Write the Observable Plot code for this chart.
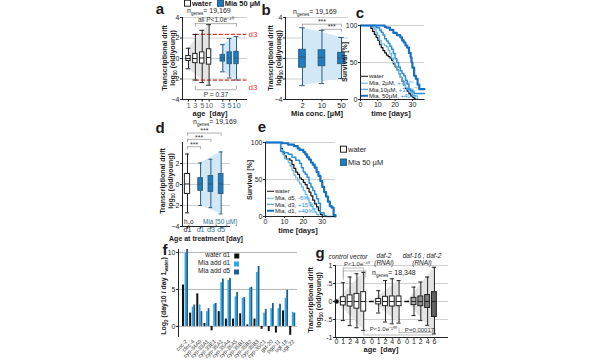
<!DOCTYPE html>
<html><head><meta charset="utf-8">
<script src="https://cdn.jsdelivr.net/npm/d3@7"></script>
<script src="https://cdn.jsdelivr.net/npm/@observablehq/plot@0.6"></script>
<style>
html,body{margin:0;padding:0;background:#fff;}
#fig{position:relative;width:600px;height:360px;overflow:hidden;font-family:"Liberation Sans",Arial,Helvetica,sans-serif;color:#1a1a1a;}
.p{position:absolute;line-height:0;}
.t{position:absolute;white-space:nowrap;line-height:1.08;}
sub,sup{font-size:65%;line-height:0;}
sub{vertical-align:-0.3em;} sup{vertical-align:0.55em;}
.L{font-weight:bold;font-size:15px;}
.ax{font-weight:bold;font-size:7.5px;}
.sq{display:inline-block;width:5px;height:5px;vertical-align:-0.5px;margin-right:1px;}
.ln{display:inline-block;width:7px;vertical-align:middle;margin-right:1px;}
</style></head><body><div id="fig"></div>
<script>
// ================= DATA =================
// panel a : transcriptional drift boxes [lo, q1, median, q3, hi]
const aTicks = [-4, -2, 0, 2, 4];
const aWaterAges = ["1", "3", "5", "10"];
const aMiaAges = ["3", "5", "10"];
const aWaterBox = [[-1.0,-0.25,0,0.25,1.0],[-2.1,-0.45,0,0.45,2.35],[-2.35,-0.5,0.05,0.6,2.75],[-2.6,-0.6,0.1,0.9,3.3]];
const aMiaBox = [[-1.3,-0.3,0.05,0.35,1.35],[-1.9,-0.55,0.05,0.6,1.95],[-2.1,-0.55,0.05,0.65,2.15]];
// panel b
const bConc = ["2", "10", "50"];
const bBox = [[-2.65,-0.9,0.15,0.85,3.0],[-2.45,-0.75,0.1,0.8,2.75],[-1.95,-0.55,0.05,0.55,2.05]];
// panel c : survival [day, %]
const cTicksX = [0, 10, 20, 30];
const cTicksY = [0, 50, 100];
const cWater = [[0,100],[5,100],[6,96],[7,92],[8,88],[9,84],[10,80],[11,74],[12,70],[13,66],[14,63],[15,60],[16,58],[17,56],[18,53],[19,48],[20,44],[21,40],[22,35],[23,30],[24,25],[25,19],[26,15],[27,11],[28,8],[29,5],[30,3],[31,1],[32,0],[37,0]];
const cMia2 = [[0,100],[6,100],[7,97],[8,95],[9,90],[10,86],[11,80],[12,75],[14,73],[15,71],[16,66],[17,62],[18,56],[19,50],[20,45],[21,40],[22,35],[23,30],[24,25],[25,19],[26,16],[27,14],[28,11],[29,9],[30,6],[31,5],[33,0],[37,0]];
const cMia10 = [[0,100],[8,100],[9,97],[11,94],[12,91],[13,87],[14,82],[15,79],[16,76],[17,72],[18,68],[19,62],[20,55],[21,50],[22,44],[23,39],[24,35],[25,32],[26,26],[27,21],[28,14],[29,12],[30,10],[31,8],[37,8]];
const cMia50 = [[0,100],[12,100],[14,98],[15,97],[17,94],[19,90],[21,87],[23,84],[24,80],[25,77],[26,73],[27,70],[28,63],[29,57],[29.5,50],[30,43],[31,32],[32,28],[33,20],[34,14],[37,14]];
// panel d
const dLabels = ["d1", "d1", "d3", "d5"];
const dWaterBox = [[-2.7,-0.9,0.05,1.0,2.9]];
const dMiaBox = [[-2.0,-0.6,0.05,0.6,2.05],[-2.2,-0.7,0.05,0.8,2.4],[-2.8,-0.9,0.05,1.0,3.1]];
// panel e : survival [day, %]
const eWater = [[0,100],[7,100],[8,92],[9,86],[10,82],[11,78],[13,76],[14,70],[15,65],[16,60],[17,57],[18,52],[19,50],[20,46],[21,43],[22,38],[23,33],[24,28],[25,22],[26,17],[27,13],[28,8],[29,3],[30,0],[37,0]];
const eMiaD5 = [[0,100],[7,100],[8,90],[9,84],[10,78],[12,73],[13,68],[14,62],[15,56],[16,52],[17,48],[18,44],[19,40],[20,35],[21,30],[22,25],[23,19],[24,14],[25,10],[26,6],[27,3],[28,0],[37,0]];
const eMiaD3 = [[0,100],[7,100],[8,88],[10,86],[12,84],[14,80],[16,76],[18,72],[19,66],[20,60],[21,57],[22,53],[23,45],[24,40],[25,35],[26,30],[27,24],[28,18],[29,5],[31,1],[32,0],[37,0]];
const eMiaD1 = [[0,100],[8,100],[9,99],[12,97],[15,95],[17,92],[18,90],[20,87],[21,84],[22,80],[23,77],[24,73],[25,70],[26,66],[27,60],[28,55],[29,48],[30,40],[31,33],[32,27],[33,20],[34,14],[35,12],[36,2],[37,0]];
// panel f : log2 fold change
const fGenes = ["cnc-2","clec-4","cyp-34A9","cyp-33A1","cyp-33E1","cyp-35A1","cyp-35A4","cyp-35A5","cyp-35B1","cyp-35B2","cyp-35B3","cyp-35C1","gst-20","pgp-11","ugt-18","ugt-22"];
const fWaterD1 = [5.6,1.8,4.4,0.4,-0.6,2.0,1.0,1.0,1.7,0.2,1.0,-0.4,-0.7,-0.9,2.1,-1.2];
const fMiaAddD1 = [9.9,2.6,2.9,2.0,3.0,5.9,6.2,4.0,3.8,5.2,7.3,1.8,2.4,2.4,3.8,1.9];
const fMiaAddD5 = [10.4,2.9,2.0,2.4,3.1,6.4,6.5,4.6,3.9,5.3,8.1,2.3,3.1,3.0,4.9,1.8];
const fTicks = [0, 5, 10];
// panel g
const gTicks = [-1, -0.5, 0, 0.5, 1];
const gTickLabels = ["-1", "-.5", "0", ".5", "1"];
const gAges = ["0", "1", "2", "4", "6"];
const gDay0 = [0, 0, 0];
const gCtrl = [[-0.53,-0.11,0,0.12,0.52],[-0.67,-0.14,0,0.17,0.68],[-0.73,-0.2,0,0.21,0.77],[-0.8,-0.28,0,0.26,0.81]];
const gDaf2 = [[-0.32,-0.08,0,0.07,0.3],[-0.57,-0.13,0,0.13,0.58],[-0.62,-0.14,0,0.14,0.63],[-0.6,-0.13,0,0.14,0.58]];
const gDaf16 = [[-0.39,-0.1,0,0.1,0.4],[-0.53,-0.13,0,0.14,0.54],[-0.66,-0.18,0,0.18,0.68],[-0.9,-0.43,0,0.26,0.95]];

// ================= STYLE =================
const FONT = '"Liberation Sans", Arial, Helvetica, sans-serif';
const baseStyle = {fontFamily: FONT, fontSize: "7px", color: "#222", background: "transparent", overflow: "visible"};
const GRID = "#cfcfcf", AXIS = "#222";
const BOXBLUE = "#1f7cc0", WHISK = "#2c5f80", BLUESHADE = "#d3e8f6", GRAYSHADE = "#e4e4e4";
const RED = "#e8362f", TEAL = "#2f6f93";
const C_LIGHT = "#63b7e8", C_MID = "#2a8fd6", C_DARK = "#1670c4";
const F_LIGHT = "#27a9ea", F_DARK = "#1c5f94";
const fig = document.getElementById("fig");

function place(node, left, top) {
  const d = document.createElement("div");
  d.className = "p"; d.style.left = left + "px"; d.style.top = top + "px";
  node.style.display = "block";
  d.appendChild(node); fig.appendChild(d);
}
function txt(x, y, html, css = "", anchor = "l") {
  const d = document.createElement("div");
  d.className = "t"; d.innerHTML = html;
  d.style.cssText += css;
  d.style.left = x + "px"; d.style.top = y + "px";
  const tx = anchor === "l" ? "0" : anchor === "c" ? "-50%" : "-100%";
  d.style.transform = `translate(${tx},-50%)`;
  fig.appendChild(d); return d;
}
function vtxt(x, y, html, css = "") {
  const d = txt(x, y, html, css, "c");
  d.style.transform = "translate(-50%,-50%) rotate(-90deg)";
  d.style.textAlign = "center"; return d;
}
function boxMarks(stats, pos, o) {
  const rows = stats.map((s, i) => ({x: pos[i], lo: s[0], q1: s[1], med: s[2], q3: s[3], hi: s[4], fill: o.fills ? o.fills[i] : o.fill}));
  const w = o.w, c = o.cap, sw = o.sw || 1;
  return [
    Plot.ruleX(rows, {x: "x", y1: "lo", y2: "q1", stroke: o.stroke, strokeWidth: sw}),
    Plot.ruleX(rows, {x: "x", y1: "q3", y2: "hi", stroke: o.stroke, strokeWidth: sw}),
    Plot.ruleY(rows, {y: "lo", x1: d => d.x - c, x2: d => d.x + c, stroke: o.stroke, strokeWidth: sw}),
    Plot.ruleY(rows, {y: "hi", x1: d => d.x - c, x2: d => d.x + c, stroke: o.stroke, strokeWidth: sw}),
    Plot.rect(rows, {x1: d => d.x - w, x2: d => d.x + w, y1: "q1", y2: "q3", fill: o.fills ? "fill" : o.fill, stroke: o.boxStroke || o.stroke, strokeWidth: 1}),
    Plot.ruleY(rows, {y: "med", x1: d => d.x - w, x2: d => d.x + w, stroke: o.medStroke || o.boxStroke || o.stroke, strokeWidth: 1})
  ];
}
function shadeRows(stats, pos) {
  const n = stats.length - 1;
  return [{x: pos[0], lo: stats[0][0], hi: stats[0][4]}, {x: pos[n], lo: stats[n][0], hi: stats[n][4]}];
}
function bracket(x1, x2, y, drop, stroke = "#9a9a9a") {
  return [
    Plot.ruleY([y], {x1, x2, stroke, strokeWidth: 0.8}),
    Plot.ruleX([x1, x2], {x: d => d, y1: y, y2: y - drop, stroke, strokeWidth: 0.8})
  ];
}
function xLabels(labels, pos, fill, dy = 8, size = 7.5) {
  return Plot.text(labels, {x: (d, i) => pos[i], text: d => d, frameAnchor: "bottom", dy, fill, fontSize: size});
}
const ntext = v => `n<sub>genes</sub>= ${v}`;

// ================= PANEL a =================
{
  const pW = aWaterAges.map((_, i) => i + 1), pM = aMiaAges.map((_, i) => i + 6);
  const ymin = aTicks[0];
  place(Plot.plot({
    width: 110, height: 120, marginLeft: 32, marginRight: 13, marginTop: 17, marginBottom: 21, style: baseStyle,
    x: {domain: [0.125, 9.6], axis: null},
    y: {domain: [-4, 4], ticks: aTicks, tickSize: 2, tickPadding: 1, label: null},
    marks: [
      Plot.ruleY(aTicks, {stroke: GRID}),
      Plot.areaY(shadeRows(aWaterBox, pW), {x: "x", y1: "lo", y2: "hi", fill: GRAYSHADE}),
      Plot.areaY(shadeRows(aMiaBox, pM), {x: "x", y1: "lo", y2: "hi", fill: BLUESHADE}),
      ...bracket(pW[1], pM[2], 3.4, 0.35),
      ...bracket(pW[1], pM[2], -3.05, -0.35),
      Plot.ruleY([aWaterBox[1][4], aWaterBox[1][0]], {x1: pW[1], x2: 9.5, stroke: RED, strokeDasharray: "4,2", strokeWidth: 1.2}),
      ...boxMarks(aWaterBox, pW, {w: 0.32, cap: 0.35, fill: "white", stroke: "#222"}),
      ...boxMarks(aMiaBox, pM, {w: 0.32, cap: 0.35, fill: BOXBLUE, stroke: WHISK}),
      Plot.text(["all P<1.0e⁻⁴⁰"], {x: (pW[1] + pM[2]) / 2, y: 3.8, text: d => d, fontSize: 6.5, fill: "#333"}),
      Plot.text(["P = 0.37"], {x: (pW[1] + pM[2]) / 2, y: -3.6, text: d => d, fontSize: 6.5, fill: "#333"}),
      Plot.text(["d3"], {x: 9.6, y: aWaterBox[1][4], text: d => d, textAnchor: "start", dx: 1, fill: RED, fontSize: 8}),
      Plot.text(["d3"], {x: 9.6, y: aWaterBox[1][0], text: d => d, textAnchor: "start", dx: 1, dy: 7, fill: RED, fontSize: 8}),
      Plot.ruleX([0.125], {stroke: AXIS}),
      Plot.ruleY([ymin], {stroke: AXIS}),
      Plot.ruleX([...pW, ...pM], {x: d => d, y1: ymin, y2: ymin - 0.25, stroke: AXIS}),
      xLabels(aWaterAges, pW, "#666"),
      xLabels(aMiaAges, pM, TEAL)
    ]
  }), 150, 0);
  txt(160, 9, "a", "", "c").className += " L";
  txt(184, 4, `<span class="sq" style="border:1px solid #222;background:#fff"></span>water <span class="sq" style="border:1px solid ${WHISK};background:${BOXBLUE};margin-left:3px"></span>Mia 50 µM`, "font-size:7.5px;font-weight:bold;");
  txt(187, 10.5, ntext("19,169"), "font-size:7px;");
  vtxt(169, 58, "Transcriptional drift<br>log<sub>10</sub> (old/young)", "font-size:7px;font-weight:bold;");
  txt(210, 114, "age&nbsp; [day]", "", "c").className += " ax";
}

// ================= PANEL b =================
{
  const p = bConc.map((_, i) => i + 1);
  place(Plot.plot({
    width: 95, height: 120, marginLeft: 25, marginRight: 7, marginTop: 17, marginBottom: 21, style: baseStyle,
    x: {domain: [0.13, 3.36], axis: null},
    y: {domain: [-4, 4], ticks: aTicks, tickSize: 2, tickPadding: 1, label: null},
    marks: [
      Plot.ruleY(aTicks, {stroke: GRID}),
      Plot.areaY(shadeRows(bBox, p), {x: "x", y1: "lo", y2: "hi", fill: BLUESHADE}),
      ...bracket(p[0], p[2], 3.35, 0.3),
      ...bracket(p[1], p[2], 2.85, 0.3),
      Plot.text(["***"], {x: (p[0] + p[2]) / 2, y: 3.55, text: d => d, fontSize: 7, fill: "#333"}),
      Plot.text(["***"], {x: (p[1] + p[2]) / 2, y: 3.05, text: d => d, fontSize: 7, fill: "#333"}),
      ...boxMarks(bBox, p, {w: 0.17, cap: 0.14, fill: BOXBLUE, stroke: WHISK}),
      Plot.ruleX([0.13], {stroke: AXIS}),
      Plot.ruleY([-4], {stroke: AXIS}),
      Plot.ruleX(p, {x: d => d, y1: -4, y2: -4.25, stroke: AXIS}),
      xLabels(bConc, p, "#222")
    ]
  }), 260, 0);
  txt(266, 10, "b", "", "c").className += " L";
  txt(293, 12, ntext("19,169"), "font-size:7px;");
  vtxt(275, 58, "Transcriptional drift<br>log<sub>10</sub> (old/young)", "font-size:7px;font-weight:bold;");
  txt(317, 114, "Mia conc. [µM]", "", "c").className += " ax";
}

// ================= PANEL c =================
{
  const sx = d => d[0], sy = d => d[1];
  place(Plot.plot({
    width: 93, height: 120, marginLeft: 25, marginRight: 4, marginTop: 25, marginBottom: 21, style: baseStyle,
    x: {domain: [0, 37], ticks: cTicksX, tickSize: 2, tickPadding: 1, label: null},
    y: {domain: [0, 100], ticks: cTicksY, tickSize: 2, tickPadding: 1, label: null},
    marks: [
      Plot.ruleY([50, 100], {stroke: GRID}),
      Plot.line(cWater, {x: sx, y: sy, curve: "step-after", stroke: "#111", strokeWidth: 1.2}),
      Plot.line(cMia2, {x: sx, y: sy, curve: "step-after", stroke: C_LIGHT, strokeWidth: 1.2}),
      Plot.line(cMia10, {x: sx, y: sy, curve: "step-after", stroke: C_MID, strokeWidth: 1.5}),
      Plot.line(cMia50, {x: sx, y: sy, curve: "step-after", stroke: C_DARK, strokeWidth: 2.2}),
      Plot.ruleX([0], {stroke: AXIS}),
      Plot.ruleY([0], {stroke: AXIS})
    ]
  }), 335, 0);
  txt(360, 13, "c", "", "c").className += " L";
  vtxt(345, 62, "Survival [%]", "font-size:7px;font-weight:bold;");
  txt(391, 114, "time [days]", "", "c").className += " ax";
  const lg = (y, col, w, html) => txt(361, y, `<span class="ln" style="border-top:${w}px solid ${col}"></span>${html}`, "font-size:6px;");
  lg(76, "#111", 1.2, "water");
  lg(83, C_LIGHT, 1.2, `Mia, 2µM, <span style="color:${C_MID}">+7%<sup>ns</sup></span>`);
  lg(89.5, C_MID, 1.5, `Mia,10µM, <span style="color:${C_MID}">+30%<sup>***</sup></span>`);
  lg(96, C_DARK, 2, `Mia, 50µM, <span style="color:${C_MID}">+40%<sup>***</sup></span>`);
}

// ================= PANEL d =================
{
  const pW = [0], pM = dMiaBox.map((_, i) => 1.25 + i * 0.98);
  const all = [...pW, ...pM];
  place(Plot.plot({
    width: 85, height: 135, marginLeft: 32, marginRight: 5, marginTop: 32, marginBottom: 19, style: baseStyle,
    x: {domain: [-0.476, 4.1], axis: null},
    y: {domain: [-4, 4], ticks: [-4, -2, 0, 2], tickSize: 2, tickPadding: 1, label: null},
    marks: [
      Plot.ruleY([-2, 0, 2], {stroke: GRID}),
      Plot.areaY(shadeRows(dMiaBox, pM), {x: "x", y1: "lo", y2: "hi", fill: BLUESHADE}),
      ...bracket(pW[0], pM[0], 3.6, 0.3),
      ...bracket(pW[0], pM[1], 4.3, 0.3),
      ...bracket(pW[0], pM[2], 4.9, 0.3),
      Plot.text(["***", "***", "***"], {x: (d, i) => (pW[0] + pM[i]) / 2, y: (d, i) => [3.8, 4.5, 5.1][i], text: d => d, fontSize: 7, fill: "#333"}),
      ...boxMarks(dWaterBox, pW, {w: 0.25, cap: 0.2, fill: "white", stroke: "#222"}),
      ...boxMarks(dMiaBox, pM, {w: 0.22, cap: 0.18, fill: BOXBLUE, stroke: WHISK}),
      Plot.ruleX([-0.476], {stroke: AXIS}),
      Plot.ruleY([-4], {stroke: AXIS}),
      Plot.ruleX(all, {x: d => d, y1: -4, y2: -4.25, stroke: AXIS}),
      xLabels(dLabels.slice(0, 1), pW, "#222", 5.5, 7),
      xLabels(dLabels.slice(1), pM, TEAL, 5.5, 7)
    ]
  }), 150, 110);
  txt(160, 128, "d", "", "c").className += " L";
  txt(193, 122, ntext("19,169"), "font-size:7px;");
  vtxt(167, 181, "Transcriptional drift<br>log<sub>10</sub> (old/young)", "font-size:7px;font-weight:bold;");
  txt(184, 221.5, "h<sub>2</sub>o", "font-size:6.5px;");
  txt(203, 221.5, `Mia [50 µM]`, `font-size:6.5px;color:${TEAL};`);
  txt(206, 239, "Age at treatment [day]", "font-size:7px;", "c").className += " ax";
}

// ================= PANEL e =================
{
  const sx = d => d[0], sy = d => d[1];
  place(Plot.plot({
    width: 100, height: 125, marginLeft: 25, marginRight: 5, marginTop: 32, marginBottom: 19, style: baseStyle,
    x: {domain: [0, 37], ticks: cTicksX, tickSize: 2, tickPadding: 1, label: null},
    y: {domain: [0, 100], ticks: cTicksY, tickSize: 2, tickPadding: 1, label: null},
    marks: [
      Plot.ruleY([50, 100], {stroke: GRID}),
      Plot.line(eWater, {x: sx, y: sy, curve: "step-after", stroke: "#111", strokeWidth: 1.2}),
      Plot.line(eMiaD5, {x: sx, y: sy, curve: "step-after", stroke: C_LIGHT, strokeWidth: 1.2}),
      Plot.line(eMiaD3, {x: sx, y: sy, curve: "step-after", stroke: C_MID, strokeWidth: 1.5}),
      Plot.line(eMiaD1, {x: sx, y: sy, curve: "step-after", stroke: C_DARK, strokeWidth: 2.2}),
      Plot.ruleX([0], {stroke: AXIS}),
      Plot.ruleY([0], {stroke: AXIS})
    ]
  }), 240, 110);
  txt(262, 127, "e", "", "c").className += " L";
  vtxt(250, 180, "Survival [%]", "font-size:7px;font-weight:bold;");
  txt(298, 231, "time [days]", "", "c").className += " ax";
  const lg = (y, col, w, html) => txt(267, y, `<span class="ln" style="border-top:${w}px solid ${col}"></span>${html}`, "font-size:6px;");
  lg(191, "#111", 1.2, "water");
  lg(198, C_LIGHT, 1.2, `Mia, d5, <span style="color:${C_MID}">-6%</span>`);
  lg(204.5, C_MID, 1.5, `Mia, d3, <span style="color:${C_MID}">+15%<sup>**</sup></span>`);
  lg(211, C_DARK, 2, `Mia, d1, <span style="color:${C_MID}">+40%<sup>***</sup></span>`);
  txt(340, 150, `<span class="sq" style="border:1px solid #222;background:#fff"></span>water`, "font-size:7.5px;");
  txt(340, 163, `<span class="sq" style="border:1px solid ${WHISK};background:${BOXBLUE}"></span>Mia 50 µM`, "font-size:7.5px;");
}

// ================= PANEL f =================
{
  const bars = (vals, a, b, fill) => Plot.rect(vals, {x1: (d, i) => i + a, x2: (d, i) => i + b, y1: 0, y2: d => d, fill});
  place(Plot.plot({
    width: 150, height: 120, marginLeft: 28, marginRight: 3, marginTop: 9, marginBottom: 23, style: baseStyle,
    x: {domain: [-0.98, 15.67], axis: null},
    y: {domain: [-1.5, 10.4], ticks: fTicks, tickSize: 2, tickPadding: 1, label: null},
    marks: [
      Plot.ruleY(fTicks, {stroke: "#b5b5b5"}),
      bars(fWaterD1, -0.42, -0.14, "#111"),
      bars(fMiaAddD1, -0.06, 0.17, F_LIGHT),
      bars(fMiaAddD5, 0.17, 0.42, F_DARK),
      Plot.ruleX([-0.98], {stroke: AXIS}),
      Plot.text(fGenes, {x: (d, i) => i, y: -1.5, dy: 3, dx: 1, text: d => d, rotate: -45, textAnchor: "end", fontSize: 5.5, fill: "#333"})
    ]
  }), 150, 240);
  txt(165, 250, "f", "", "c").className += " L";
  vtxt(164, 296, "Log<sub>2</sub> (day10 / day 1<sub>water</sub>)", "font-size:7px;font-weight:bold;");
  const lg = (y, col, label) => txt(240, y, `${label} <span class="sq" style="background:${col};margin-left:2px"></span>`, "font-size:6.5px;", "r");
  lg(255, "#111", "water d1");
  lg(263, F_LIGHT, "Mia add d1");
  lg(271, F_DARK, "Mia add d5");
}

// ================= PANEL g =================
{
  const starts = [0, 5.2, 10.4];
  const pos = g => gAges.slice(1).map((_, i) => starts[g] + i + 1);
  const grays = ["#a8a8a8", "#8e8e8e", "#7a7a7a", "#5f5f5f"];
  const sets = [gCtrl, gDaf2, gDaf16];
  const shade = g => {
    const s = sets[g], n = s.length - 1;
    return [{x: starts[g], lo: gDay0[g], hi: gDay0[g]}, {x: pos(g)[n], lo: s[n][0], hi: s[n][4]}];
  };
  const allPos = starts.flatMap((s, g) => [s, ...pos(g)]);
  const allLab = starts.flatMap(() => gAges);
  place(Plot.plot({
    width: 150, height: 120, marginLeft: 35, marginRight: 2, marginTop: 25, marginBottom: 23, style: baseStyle,
    color: {type: "identity"},
    x: {domain: [-0.15, 16.47], axis: null},
    y: {domain: [-1, 1], ticks: gTicks, tickFormat: d => gTickLabels[gTicks.indexOf(d)], tickSize: 2, tickPadding: 1, label: null},
    marks: [
      Plot.ruleY(gTicks, {stroke: GRID}),
      ...[0, 1, 2].map(g => Plot.areaY(shade(g), {x: "x", y1: "lo", y2: "hi", fill: GRAYSHADE})),
      ...bracket(pos(0)[0], pos(0)[3], 0.93, 0.35, "#aaa"),
      ...bracket(pos(0)[0], pos(0)[3] + 0.3, 0.85, 0.2, "#aaa"),
      ...bracket(pos(0)[3], pos(2)[3], -0.93, -0.12, "#aaa"),
      ...bracket(pos(1)[3], pos(2)[3], -0.86, -0.12, "#aaa"),
      Plot.text(["P<1.0e⁻⁴⁰"], {x: (pos(0)[0] + pos(0)[3]) / 2 + 0.5, y: 1.05, text: d => d, fontSize: 6, fill: "#333"}),
      Plot.text(["P<1.0e⁻¹⁰⁰"], {x: (pos(0)[3] + pos(1)[3]) / 2 + 0.3, y: -0.76, text: d => d, fontSize: 6, fill: "#333"}),
      Plot.text(["P=0.00017"], {x: (pos(1)[3] + pos(2)[3]) / 2 + 0.4, y: -0.8, text: d => d, fontSize: 6, fill: "#333"}),
      Plot.dot([gDay0[0]], {x: starts[0], y: d => d, r: 2.3, fill: "#111"}),
      Plot.ruleY([gDay0[1], gDay0[2]], {y: d => d, x1: (d, i) => starts[i + 1] - 0.35, x2: (d, i) => starts[i + 1] + 0.35, stroke: "#111", strokeWidth: 1.5}),
      ...boxMarks(gCtrl, pos(0), {w: 0.36, cap: 0.3, fill: "white", stroke: "#222"}),
      ...boxMarks(gDaf2, pos(1), {w: 0.36, cap: 0.3, fill: "white", stroke: "#222"}),
      ...boxMarks(gDaf16, pos(2), {w: 0.36, cap: 0.3, fills: grays, stroke: "#222"}),
      Plot.ruleX([-0.15], {stroke: AXIS}),
      Plot.ruleY([-1], {stroke: AXIS}),
      Plot.ruleX(allPos, {x: d => d, y1: -1, y2: -1.05, stroke: AXIS}),
      xLabels(allLab, allPos, "#222", 6, 7)
    ]
  }), 300, 240);
  txt(320, 253, "g", "", "c").className += " L";
  vtxt(315, 300, "Transcriptional drift<br>log<sub>10</sub> (old/young)", "font-size:7px;font-weight:bold;");
  txt(348, 257, "control vector", "font-size:6.5px;font-style:italic;", "c");
  txt(384, 258.5, "daf-2<br>(RNAi)", "font-size:6.5px;font-style:italic;text-align:center;", "c");
  txt(422, 258.5, "daf-16 ; daf-2<br>(RNAi)", "font-size:6.5px;font-style:italic;text-align:center;", "c");
  txt(372, 273, ntext("18,348"), "font-size:7px;");
  txt(381, 350, "age&nbsp; [day]", "", "c").className += " ax";
}
</script></body></html>
